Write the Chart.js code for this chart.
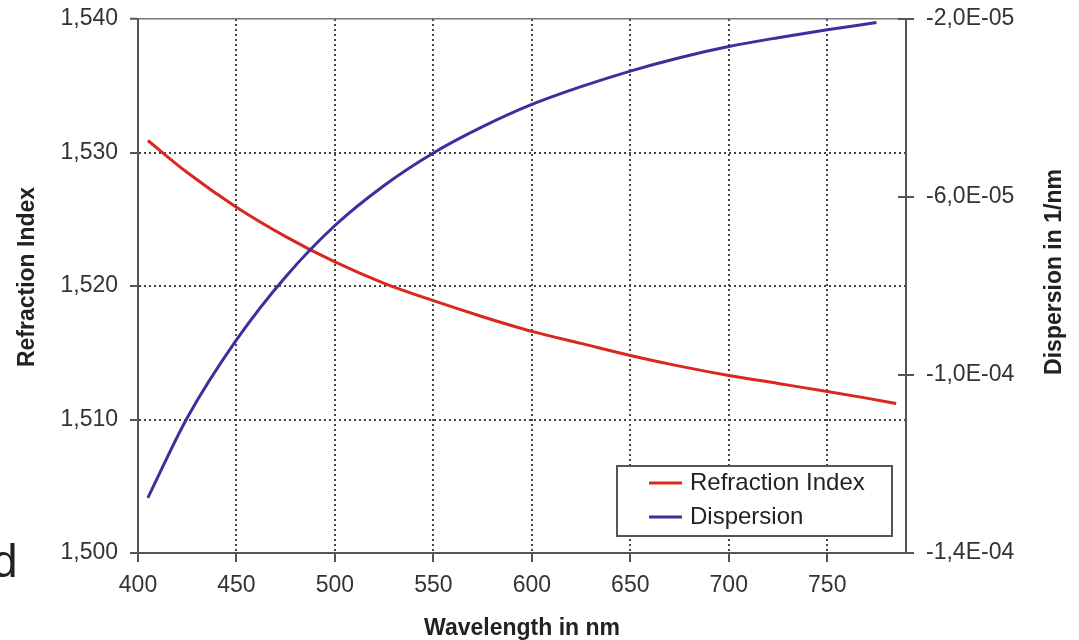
<!DOCTYPE html>
<html lang="en">
<head>
  <meta charset="UTF-8">
  <title>Refraction Index and Dispersion</title>
  <script src="https://cdn.jsdelivr.net/npm/chart.js"></script>
  <style>
    body { margin: 0; background: #fff; }
    canvas { display: block; }
  </style>
</head>
<body>
<canvas id="grafico" width="1079" height="640"></canvas>

<script>
  // Refraction index curve
  const indexWavelength = [405, 425, 450, 475, 500, 525, 550, 575, 600, 625, 650, 675, 700, 725, 750, 770, 785];
  const refractionIndex = [1.5309, 1.5285, 1.5259, 1.5237, 1.5218, 1.5202, 1.5189, 1.5177, 1.5166, 1.5157, 1.5148, 1.5140, 1.5133, 1.5127, 1.5121, 1.5116, 1.5112];

  // Dispersion curve (1/nm)
  const dispWavelength = [405, 425, 450, 475, 500, 525, 550, 575, 600, 625, 650, 675, 700, 725, 750, 775];
  const dispersion = [-1.276e-4, -1.096e-4, -9.21e-5, -7.79e-5, -6.64e-5, -5.74e-5, -5.01e-5, -4.42e-5, -3.92e-5, -3.52e-5, -3.17e-5, -2.87e-5, -2.62e-5, -2.42e-5, -2.24e-5, -2.08e-5];

  // Axis ticks
  const xTicks = [400, 450, 500, 550, 600, 650, 700, 750];
  const indexTicks = [1.500, 1.510, 1.520, 1.530, 1.540];
  const dispTicks = [-1.4e-4, -1.0e-4, -6.0e-5, -2.0e-5];

  const FONT = '"Liberation Sans", Arial, sans-serif';
  const ROJO = '#d8281f';
  const AZUL = '#3d2f9c';
  const EJE = '#555';
  const PUNTEADO = '#444';

  function aPuntos(xs, ys) {
    return xs.map((x, i) => ({ x: x, y: ys[i] }));
  }

  function formatoExp(v) {
    const [m, e] = v.toExponential(1).split('e');
    const exp = Number(e);
    return m.replace('.', ',') + 'E' + (exp < 0 ? '-' : '+') + String(Math.abs(exp)).padStart(2, '0');
  }

  function tituloVertical(ctx, texto, x, y) {
    ctx.save();
    ctx.translate(x, y);
    ctx.rotate(-Math.PI / 2);
    ctx.font = 'bold 23px ' + FONT;
    ctx.fillStyle = '#222';
    ctx.textAlign = 'center';
    ctx.textBaseline = 'middle';
    ctx.fillText(texto, 0, 0);
    ctx.restore();
  }

  // Cross ticks on the right axis, vertical titles, legend box and stray letter
  const extras = {
    id: 'extras',
    afterDraw(chart) {
      const ctx = chart.ctx;
      const area = chart.chartArea;
      const y1 = chart.scales.y1;

      ctx.save();
      ctx.strokeStyle = EJE;
      ctx.lineWidth = 2;
      y1.ticks.forEach(t => {
        const py = Math.round(y1.getPixelForValue(t.value));
        ctx.beginPath();
        ctx.moveTo(area.right - 8, py);
        ctx.lineTo(area.right + 8, py);
        ctx.stroke();
      });
      ctx.beginPath();
      ctx.moveTo(area.right, area.bottom);
      ctx.lineTo(area.right + 7, area.bottom);
      ctx.stroke();

      tituloVertical(ctx, 'Refraction Index', 28, area.top + 258);
      tituloVertical(ctx, 'Dispersion in 1/nm', 1055, area.top + 253);

      // legend
      const bw = 275, bh = 70;
      const bx = area.right - 14 - bw;
      const by = area.bottom - 17 - bh;
      ctx.fillStyle = '#fff';
      ctx.fillRect(bx, by, bw, bh);
      ctx.strokeStyle = EJE;
      ctx.lineWidth = 2;
      ctx.strokeRect(bx, by, bw, bh);

      const entradas = [chart.data.datasets[1], chart.data.datasets[0]];
      ctx.font = '24px ' + FONT;
      ctx.textBaseline = 'middle';
      entradas.forEach((ds, i) => {
        const cy = by + 17 + i * 34;
        ctx.strokeStyle = ds.borderColor;
        ctx.lineWidth = 3;
        ctx.beginPath();
        ctx.moveTo(bx + 32, cy);
        ctx.lineTo(bx + 65, cy);
        ctx.stroke();
        ctx.fillStyle = '#222';
        ctx.fillText(ds.label, bx + 73, cy);
      });

      ctx.font = '46px ' + FONT;
      ctx.textBaseline = 'alphabetic';
      ctx.fillStyle = '#222';
      ctx.fillText('d', -8, 577);
      ctx.restore();
    }
  };

  new Chart(document.getElementById('grafico'), {
    type: 'line',
    data: {
      datasets: [
        {
          label: 'Dispersion',
          data: aPuntos(dispWavelength, dispersion),
          yAxisID: 'y1',
          borderColor: AZUL,
          borderWidth: 3,
          pointRadius: 0,
          cubicInterpolationMode: 'monotone',
          fill: false
        },
        {
          label: 'Refraction Index',
          data: aPuntos(indexWavelength, refractionIndex),
          yAxisID: 'y',
          borderColor: ROJO,
          borderWidth: 3,
          pointRadius: 0,
          cubicInterpolationMode: 'monotone',
          fill: false
        }
      ]
    },
    options: {
      responsive: false,
      animation: false,
      layout: { padding: { top: 19, right: 0, bottom: 0, left: 0 } },
      plugins: {
        legend: { display: false },
        tooltip: { enabled: false }
      },
      scales: {
        x: {
          type: 'linear',
          min: 400,
          max: 790,
          afterBuildTicks: s => { s.ticks = xTicks.map(v => ({ value: v })); },
          afterFit: s => { s.height = 87; s.paddingLeft = 0; s.paddingRight = 0; },
          ticks: {
            color: '#333',
            font: { family: FONT, size: 23 },
            padding: 10,
            maxRotation: 0,
            callback: v => String(v)
          },
          grid: {
            color: c => (c.tick && c.tick.value === 400) ? 'rgba(0,0,0,0)' : PUNTEADO,
            lineWidth: 2,
            tickColor: EJE,
            tickLength: 9
          },
          border: { color: EJE, width: 2, dash: [2, 3] },
          title: {
            display: true,
            text: 'Wavelength in nm',
            color: '#222',
            font: { family: FONT, size: 23, weight: 'bold', lineHeight: 1 },
            padding: { top: 0, bottom: 0 }
          }
        },
        y: {
          position: 'left',
          min: 1.5,
          max: 1.54,
          afterBuildTicks: s => { s.ticks = indexTicks.map(v => ({ value: v })); },
          afterFit: s => { s.width = 138; s.paddingTop = 0; s.paddingBottom = 0; },
          ticks: {
            color: '#333',
            font: { family: FONT, size: 23 },
            padding: 12,
            callback: v => v.toFixed(3).replace('.', ',')
          },
          grid: {
            color: c => {
              if (c.index === 0) return 'rgba(0,0,0,0)';
              if (c.index === indexTicks.length - 1) return '#777';
              return PUNTEADO;
            },
            lineWidth: c => c.index === indexTicks.length - 1 ? 1.5 : 2,
            tickColor: EJE,
            tickWidth: 2,
            tickLength: 8
          },
          border: {
            color: EJE,
            width: 2,
            dash: c => c.index === indexTicks.length - 1 ? [] : [2, 3]
          }
        },
        y1: {
          position: 'right',
          min: -1.4e-4,
          max: -2.0e-5,
          afterBuildTicks: s => { s.ticks = dispTicks.map(v => ({ value: v })); },
          afterFit: s => { s.width = 173; s.paddingTop = 0; s.paddingBottom = 0; },
          ticks: {
            color: '#333',
            font: { family: FONT, size: 23 },
            padding: 20,
            callback: v => formatoExp(v)
          },
          grid: { drawOnChartArea: false, drawTicks: false },
          border: { color: EJE, width: 2 }
        }
      }
    },
    plugins: [extras]
  });
</script>
</body>
</html>
